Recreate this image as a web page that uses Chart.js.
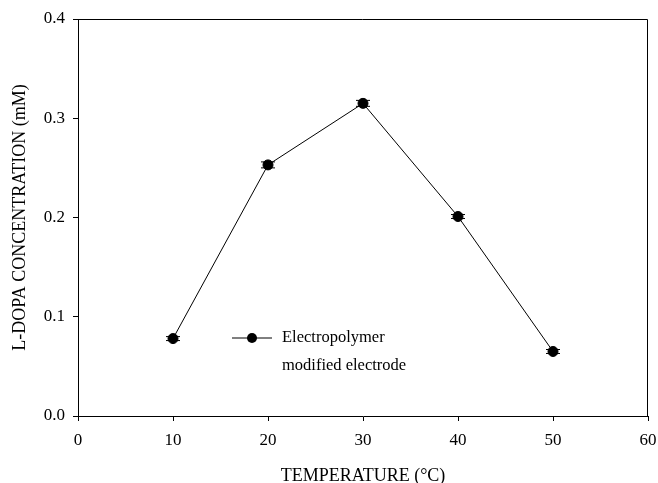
<!DOCTYPE html>
<html>
<head>
<meta charset="utf-8">
<script src="https://cdn.jsdelivr.net/npm/chart.js@4"></script>
<style>
    html, body { margin: 0; padding: 0; background: #fff; }
    #wrap { width: 658px; height: 483px; }
</style>
</head>
<body>
<div id="wrap"><canvas id="tempChart"></canvas></div>
<script>
// Data
const temperatures = [10, 20, 30, 40, 50];
const concentrations = [0.078, 0.253, 0.315, 0.201, 0.065];
const errors = [0.002, 0.003, 0.003, 0.002, 0.002];
const seriesName = ['Electropolymer', 'modified electrode'];

const FONT = '"Liberation Serif", "Times New Roman", serif';

// Error bars drawn through the scales
const errorBars = {
    id: 'errorBars',
    afterDatasetsDraw(chart) {
        const { ctx, scales: { x, y } } = chart;
        ctx.save();
        ctx.strokeStyle = '#000';
        ctx.lineWidth = 1;
        temperatures.forEach((t, i) => {
            const px = x.getPixelForValue(t);
            const top = y.getPixelForValue(concentrations[i] + errors[i]);
            const bot = y.getPixelForValue(concentrations[i] - errors[i]);
            ctx.beginPath();
            ctx.moveTo(px, top); ctx.lineTo(px, bot);
            ctx.moveTo(px - 7, top); ctx.lineTo(px + 7, top);
            ctx.moveTo(px - 7, bot); ctx.lineTo(px + 7, bot);
            ctx.stroke();
        });
        ctx.restore();
    }
};

// Frame on top/right and legend inside the plot
const frameAndLegend = {
    id: 'frameAndLegend',
    afterDraw(chart) {
        const { ctx, chartArea: a } = chart;
        ctx.save();
        ctx.strokeStyle = '#000';
        ctx.lineWidth = 1;
        ctx.beginPath();
        ctx.moveTo(a.left, a.top + 0.5);
        ctx.lineTo(a.right - 0.5, a.top + 0.5);
        ctx.lineTo(a.right - 0.5, a.bottom);
        ctx.stroke();

        // legend
        const lx = 232, ly = 338;
        ctx.beginPath();
        ctx.moveTo(lx, ly); ctx.lineTo(lx + 40, ly);
        ctx.stroke();
        ctx.fillStyle = '#000';
        ctx.beginPath();
        ctx.arc(lx + 20, ly, 5, 0, Math.PI * 2);
        ctx.fill();
        ctx.font = '16.5px ' + FONT;
        ctx.textBaseline = 'middle';
        ctx.textAlign = 'left';
        ctx.fillText(seriesName[0], lx + 50, ly);
        ctx.fillText(seriesName[1], lx + 50, ly + 28);
        ctx.restore();
    }
};

const chartCtx = document.getElementById('tempChart').getContext('2d');
new Chart(chartCtx, {
    type: 'line',
    data: {
        datasets: [{
            label: seriesName.join(' '),
            data: temperatures.map((t, i) => ({ x: t, y: concentrations[i] })),
            borderColor: '#000',
            borderWidth: 1,
            backgroundColor: '#000',
            pointRadius: 5,
            pointHoverRadius: 5,
            tension: 0,
        }]
    },
    options: {
        responsive: true,
        maintainAspectRatio: false,
        animation: false,
        layout: { padding: { top: 19, right: 10, left: 11, bottom: 0 } },
        scales: {
            x: {
                type: 'linear',
                min: 0,
                max: 60,
                afterFit: (s) => { s.height = 67; s.paddingRight = 0; s.paddingLeft = 0; },
                border: { display: true, color: '#000', width: 1 },
                grid: { drawOnChartArea: false, tickLength: 5, color: '#000' },
                ticks: { stepSize: 10, padding: 9, color: '#000', font: { family: FONT, size: 17 } },
                title: {
                    display: true,
                    text: 'TEMPERATURE (°C)',
                    color: '#000',
                    padding: 0,
                    font: { family: FONT, size: 18, lineHeight: 0.8 }
                }
            },
            y: {
                min: 0,
                max: 0.4,
                afterFit: (s) => { s.width = 67; },
                border: { display: true, color: '#000', width: 1 },
                grid: { drawOnChartArea: false, tickLength: 5, color: '#000' },
                ticks: {
                    stepSize: 0.1,
                    padding: 8,
                    color: '#000',
                    font: { family: FONT, size: 17 },
                    callback: (v) => v.toFixed(1)
                },
                title: {
                    display: true,
                    text: 'L-DOPA CONCENTRATION (mM)',
                    color: '#000',
                    padding: 0,
                    font: { family: FONT, size: 18, lineHeight: 1 }
                }
            }
        },
        plugins: {
            legend: { display: false },
            tooltip: { enabled: false }
        }
    },
    plugins: [errorBars, frameAndLegend]
});
</script>
</body>
</html>
